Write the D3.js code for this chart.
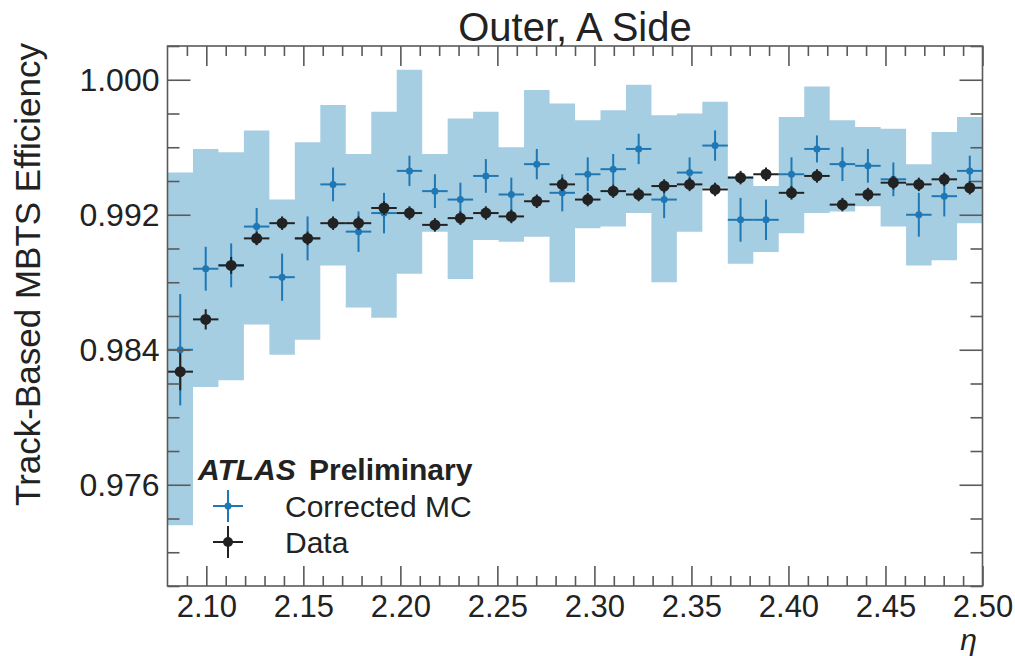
<!DOCTYPE html>
<html>
<head>
<meta charset="utf-8">
<script src="https://cdn.jsdelivr.net/npm/d3@7"></script>
<style>
  html, body { margin: 0; padding: 0; background: #fff; }
  svg { display: block; }
  text { font-family: "Liberation Sans", Arial, Helvetica, sans-serif; fill: #222; }
</style>
</head>
<body>
<svg id="chart" width="1015" height="656"></svg>
<script>
// ---------- data ----------
const binEdges = [2.080000, 2.093125, 2.106250, 2.119375, 2.132500, 2.145625, 2.158750, 2.171875,
  2.185000, 2.198125, 2.211250, 2.224375, 2.237500, 2.250625, 2.263750, 2.276875,
  2.290000, 2.303125, 2.316250, 2.329375, 2.342500, 2.355625, 2.368750, 2.381875,
  2.395000, 2.408125, 2.421250, 2.434375, 2.447500, 2.460625, 2.473750, 2.486875, 2.500000];

// MC systematic band (lower / upper edge per bin)
const bandLow = [0.9736, 0.9818, 0.9822, 0.9855, 0.9837, 0.9846, 0.9890, 0.9865,
  0.9859, 0.9885, 0.9910, 0.9882, 0.9905, 0.9904, 0.9907, 0.9880,
  0.9912, 0.9913, 0.9921, 0.9880, 0.9910, 0.9936, 0.9891, 0.9898,
  0.9909, 0.9921, 0.9922, 0.9925, 0.9913, 0.9890, 0.9893, 0.9915];
const bandHigh = [0.9945, 0.9959, 0.9957, 0.9970, 0.9929, 0.9963, 0.9985, 0.9956,
  0.9981, 1.0006, 0.9956, 0.9977, 0.9981, 0.9960, 0.9994, 0.9986,
  0.9976, 0.9982, 0.9997, 0.9979, 0.9980, 0.9987, 0.9943, 0.9937,
  0.9978, 0.9996, 0.9976, 0.9972, 0.9971, 0.9950, 0.9969, 0.9978];

// Corrected MC
const mcValue = [0.9840, 0.9888, 0.9890, 0.9913, 0.9883, 0.9906, 0.9938, 0.9910,
  0.9921, 0.9946, 0.9934, 0.9929, 0.9943, 0.9932, 0.9950, 0.9933,
  0.9944, 0.9947, 0.9959, 0.9929, 0.9945, 0.9961, 0.9917, 0.9917,
  0.9944, 0.9959, 0.9950, 0.9949, 0.9941, 0.9920, 0.9931, 0.9946];
const mcError = [0.0033, 0.0013, 0.0013, 0.0011, 0.0014, 0.0013, 0.0010, 0.0012,
  0.0012, 0.0009, 0.0010, 0.0010, 0.0010, 0.0010, 0.0009, 0.0011,
  0.0010, 0.0009, 0.0009, 0.0011, 0.0009, 0.0009, 0.0013, 0.0012,
  0.0010, 0.0008, 0.0010, 0.0010, 0.0010, 0.0013, 0.0012, 0.0009];

// Data
const dataValue = [0.9827, 0.9858, 0.9890, 0.9906, 0.9915, 0.9906, 0.9915, 0.9915,
  0.9924, 0.9921, 0.9914, 0.9918, 0.9921, 0.9919, 0.9928, 0.9938,
  0.9929, 0.9934, 0.9932, 0.9937, 0.9938, 0.9935, 0.9942, 0.9944,
  0.9933, 0.9943, 0.9926, 0.9932, 0.9939, 0.9938, 0.9941, 0.9936];
const dataError = [0.0011, 0.0006, 0.0005, 0.0004, 0.0004, 0.0004, 0.0004, 0.0004,
  0.0004, 0.0004, 0.0004, 0.0004, 0.0004, 0.0004, 0.0004, 0.0004,
  0.0004, 0.0004, 0.0004, 0.0004, 0.0004, 0.0004, 0.0004, 0.0004,
  0.0004, 0.0004, 0.0004, 0.0004, 0.0004, 0.0004, 0.0004, 0.0004];

const xMajorTicks = [2.10, 2.15, 2.20, 2.25, 2.30, 2.35, 2.40, 2.45, 2.50];
const xMinorTicks = [2.09, 2.11, 2.12, 2.13, 2.14, 2.16, 2.17, 2.18, 2.19, 2.21, 2.22, 2.23, 2.24,
  2.26, 2.27, 2.28, 2.29, 2.31, 2.32, 2.33, 2.34, 2.36, 2.37, 2.38, 2.39,
  2.41, 2.42, 2.43, 2.44, 2.46, 2.47, 2.48, 2.49];
const yMajorTicks = [0.976, 0.984, 0.992, 1.000];
const yMinorTicks = [0.970, 0.972, 0.974, 0.978, 0.980, 0.982, 0.986, 0.988, 0.990, 0.994, 0.996, 0.998, 1.002];

const titleText = "Outer, A Side";
const yTitle = "Track-Based MBTS Efficiency";
const xTitle = "η";
const legendLabels = ["Corrected MC", "Data"];

// ---------- layout ----------
const W = 1015, H = 656;
const plot = { left: 167.5, right: 982.5, top: 46, bottom: 586 };
const colBand = "#a6cee3", colMC = "#1f78b4", colData = "#222222", colFrame = "#5a5a5a";

const svg = d3.select("#chart");
svg.append("rect").attr("width", W).attr("height", H).attr("fill", "#fff");

const x = d3.scaleLinear().domain([2.08, 2.50]).range([plot.left, plot.right]);
const y = d3.scaleLinear().domain([0.970, 1.002]).range([plot.bottom, plot.top]);

const bins = mcValue.map((v, i) => ({
  x0: binEdges[i], x1: binEdges[i + 1], xc: (binEdges[i] + binEdges[i + 1]) / 2,
  lo: bandLow[i], hi: bandHigh[i], mc: v, mcErr: mcError[i], d: dataValue[i], dErr: dataError[i]
}));

// band as stepped area
const stepPts = [];
bins.forEach(b => { stepPts.push({ x: b.x0, lo: b.lo, hi: b.hi }); stepPts.push({ x: b.x1, lo: b.lo, hi: b.hi }); });
const area = d3.area().x(d => x(d.x)).y0(d => y(d.lo)).y1(d => y(d.hi));
svg.append("path").datum(stepPts).attr("d", area).attr("fill", colBand).attr("stroke", "none");

// MC points
const gMC = svg.append("g");
gMC.selectAll("line.h").data(bins).join("line")
  .attr("x1", d => x(d.x0)).attr("x2", d => x(d.x1))
  .attr("y1", d => y(d.mc)).attr("y2", d => y(d.mc))
  .attr("stroke", colMC).attr("stroke-width", 2);
gMC.selectAll("line.v").data(bins).join("line")
  .attr("x1", d => x(d.xc)).attr("x2", d => x(d.xc))
  .attr("y1", d => y(d.mc - d.mcErr)).attr("y2", d => y(d.mc + d.mcErr))
  .attr("stroke", colMC).attr("stroke-width", 2);
gMC.selectAll("circle").data(bins).join("circle")
  .attr("cx", d => x(d.xc)).attr("cy", d => y(d.mc)).attr("r", 3.5).attr("fill", colMC);

// Data points
const gD = svg.append("g");
gD.selectAll("line.h").data(bins).join("line")
  .attr("x1", d => x(d.x0)).attr("x2", d => x(d.x1))
  .attr("y1", d => y(d.d)).attr("y2", d => y(d.d))
  .attr("stroke", colData).attr("stroke-width", 2);
gD.selectAll("line.v").data(bins).join("line")
  .attr("x1", d => x(d.xc)).attr("x2", d => x(d.xc))
  .attr("y1", d => y(d.d - d.dErr)).attr("y2", d => y(d.d + d.dErr))
  .attr("stroke", colData).attr("stroke-width", 2);
gD.selectAll("circle").data(bins).join("circle")
  .attr("cx", d => x(d.xc)).attr("cy", d => y(d.d)).attr("r", 5.5).attr("fill", colData);

// ---------- axes ----------
function styleAxis(g) {
  g.select(".domain").remove();
  g.selectAll(".tick line").attr("stroke", colFrame).attr("stroke-width", 1.6);
  g.selectAll(".tick text").attr("fill", "#222").style("font-family", '"Liberation Sans", Arial, sans-serif');
}
// bottom
svg.append("g").attr("transform", `translate(0,${plot.bottom})`)
  .call(d3.axisBottom(x).tickValues(xMajorTicks).tickSize(-20).tickPadding(9).tickFormat(d3.format(".2f")))
  .call(styleAxis).call(g => g.selectAll("text").attr("font-size", 31));
svg.append("g").attr("transform", `translate(0,${plot.bottom})`)
  .call(d3.axisBottom(x).tickValues(xMinorTicks).tickSize(-10).tickFormat(""))
  .call(styleAxis);
// top
svg.append("g").attr("transform", `translate(0,${plot.top})`)
  .call(d3.axisTop(x).tickValues(xMajorTicks).tickSize(-20).tickFormat(""))
  .call(styleAxis);
svg.append("g").attr("transform", `translate(0,${plot.top})`)
  .call(d3.axisTop(x).tickValues(xMinorTicks).tickSize(-10).tickFormat(""))
  .call(styleAxis);
// left
svg.append("g").attr("transform", `translate(${plot.left},0)`)
  .call(d3.axisLeft(y).tickValues(yMajorTicks).tickSize(-23).tickPadding(8).tickFormat(d3.format(".3f")))
  .call(styleAxis).call(g => g.selectAll("text").attr("font-size", 32));
svg.append("g").attr("transform", `translate(${plot.left},0)`)
  .call(d3.axisLeft(y).tickValues(yMinorTicks).tickSize(-12).tickFormat(""))
  .call(styleAxis);
// right
svg.append("g").attr("transform", `translate(${plot.right},0)`)
  .call(d3.axisRight(y).tickValues(yMajorTicks).tickSize(-23).tickFormat(""))
  .call(styleAxis);
svg.append("g").attr("transform", `translate(${plot.right},0)`)
  .call(d3.axisRight(y).tickValues(yMinorTicks).tickSize(-12).tickFormat(""))
  .call(styleAxis);

// frame
svg.append("rect")
  .attr("x", plot.left).attr("y", plot.top)
  .attr("width", plot.right - plot.left).attr("height", plot.bottom - plot.top)
  .attr("fill", "none").attr("stroke", colFrame).attr("stroke-width", 1.6);

// ---------- titles ----------
svg.append("text").attr("x", (plot.left + plot.right) / 2).attr("y", 41)
  .attr("text-anchor", "middle").attr("font-size", 40).text(titleText);
svg.append("text").attr("transform", `translate(40,43) rotate(-90)`)
  .attr("text-anchor", "end").attr("font-size", 35).text(yTitle);
svg.append("text").attr("x", 977).attr("y", 650).attr("text-anchor", "end")
  .attr("font-size", 30).attr("font-style", "italic").text(xTitle);

// ---------- legend ----------
const lg = svg.append("g");
lg.append("text").attr("x", 198).attr("y", 480).attr("font-size", 30)
  .attr("font-weight", "bold").attr("font-style", "italic").text("ATLAS");
lg.append("text").attr("x", 309).attr("y", 480).attr("font-size", 30)
  .attr("font-weight", "bold").text("Preliminary");
const legendItems = [
  { label: legendLabels[0], color: colMC, r: 3.5, y: 506 },
  { label: legendLabels[1], color: colData, r: 5.0, y: 542 }
];
legendItems.forEach(it => {
  lg.append("line").attr("x1", 213).attr("x2", 243).attr("y1", it.y).attr("y2", it.y)
    .attr("stroke", it.color).attr("stroke-width", 2);
  lg.append("line").attr("x1", 228).attr("x2", 228).attr("y1", it.y - 16).attr("y2", it.y + 16)
    .attr("stroke", it.color).attr("stroke-width", 2);
  lg.append("circle").attr("cx", 228).attr("cy", it.y).attr("r", it.r).attr("fill", it.color);
  lg.append("text").attr("x", 285).attr("y", it.y + 10.5).attr("font-size", 30).text(it.label);
});
</script>
</body>
</html>
